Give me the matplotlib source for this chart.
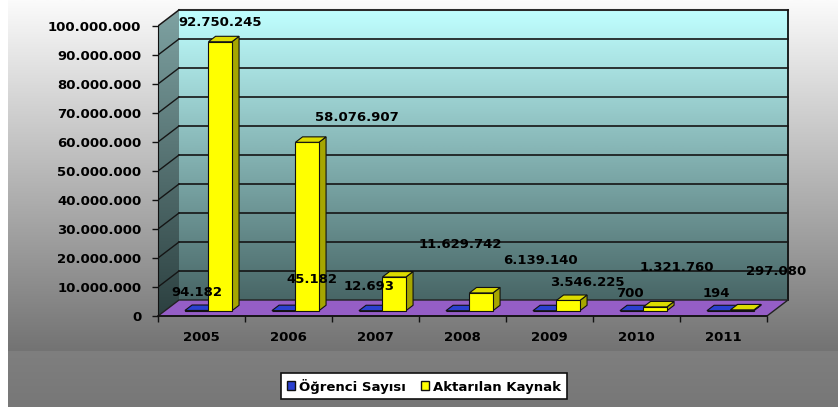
import numpy as np
import matplotlib
matplotlib.use("Agg")
import matplotlib.pyplot as plt
from matplotlib.patches import Polygon, Patch
from matplotlib.colors import to_rgb

years = ["2005", "2006", "2007", "2008", "2009", "2010", "2011"]
ogrenci = [94182, 45182, 12693, None, None, 700, 194]
aktarilan = [92750245, 58076907, 11629742, 6139140, 3546225, 1321760, 297080]
series_names = ["Öğrenci Sayısı", "Aktarılan Kaynak"]
yticks = list(range(0, 100_000_001, 10_000_000))

# label nudges (pixels) relative to the top of each bar, as Excel placed them
ogr_label_off = [(0, 18), (28, 31), (-2, 24), None, None, (-2, 17), (-2, 17)]
akt_label_off = [(0, 19), (50, 25), (66, 32), (59, 32), (19, 18), (22, 39), (34, 38)]

W, H = 838, 407
fig = plt.figure(figsize=(W / 100, H / 100), dpi=100)
plt.rcParams["font.family"] = ["DejaVu Sans"]


def gradient(c_top, c_bot, n=256):
    a, b = np.array(to_rgb(c_top)), np.array(to_rgb(c_bot))
    t = np.linspace(0, 1, n)[:, None]
    return (a + (b - a) * t)[:, None, :]


# figure background
bg = fig.add_axes([0, 0, 1, 1], zorder=-10)
bg.set_xlim(0, W)
bg.set_ylim(H, 0)
bg.axis("off")
bg.imshow(gradient("#fbfbfb", "#737373"), extent=(7, W, 351, 0), aspect="auto")
bg.imshow(gradient("#7f7f7f", "#777777"), extent=(7, W, H, 351), aspect="auto")
bg.imshow(gradient("#ffffff", "#ffffff", 2), extent=(0, 7, H, 0), aspect="auto")

# main axes: front plane mapping
left_px, right_px, top_px, bot_px = 158, 800, 3, 335
cat_px, m_px, zero_py = 87.0, 2.9, 316
ax = fig.add_axes([left_px / W, 1 - bot_px / H, (right_px - left_px) / W, (bot_px - top_px) / H])
ax.set_xlim(-0.5, -0.5 + (right_px - left_px) / cat_px)
ax.set_ylim((zero_py - bot_px) / m_px * 1e6, (zero_py - top_px) / m_px * 1e6)
ax.patch.set_visible(False)

DX = 21 / cat_px
DY = 16 / m_px * 1e6
n = len(years)
x0, x1 = -0.5, n - 0.5
ymax = yticks[-1]

# back wall
ax.imshow(gradient("#c0ffff", "#486666"), extent=(x0 + DX, x1 + DX, DY, ymax + DY),
          aspect="auto", zorder=0, interpolation="bicubic")
ax.plot([x0 + DX, x1 + DX], [ymax + DY, ymax + DY], color="#9a9a9a", lw=1.5, zorder=1)
ax.plot([x1 + DX, x1 + DX], [DY, ymax + DY], color="#111111", lw=1.3, zorder=1)

# left wall
lw_poly = Polygon([(x0, 0), (x0 + DX, DY), (x0 + DX, ymax + DY), (x0, ymax)],
                  closed=True, facecolor="none", edgecolor="none", zorder=1)
ax.add_patch(lw_poly)
im = ax.imshow(gradient("#7ea2a2", "#2c4040"), extent=(x0, x0 + DX, 0, ymax + DY),
               aspect="auto", zorder=0.5, interpolation="bicubic")
im.set_clip_path(lw_poly)
ax.plot([x0, x0 + DX], [ymax, ymax + DY], color="#9a9a9a", lw=1.2, zorder=1)

# gridlines
for v in yticks[1:]:
    ax.plot([x0 + DX, x1 + DX], [v + DY, v + DY], color="#151515", lw=1.2, zorder=1.5)
    ax.plot([x0, x0 + DX], [v, v + DY], color="#151515", lw=1.0, zorder=1.5)

# floor
ax.add_patch(Polygon([(x0, 0), (x1, 0), (x1 + DX, DY), (x0 + DX, DY)], closed=True,
                     facecolor="#955ec6", edgecolor="#222222", lw=1.0, zorder=2))

# bars
bw, f0, f1 = 0.27, 0.33, 0.67


def draw_box(xa, xb, v, front, side, top, z):
    v = v or 0
    fr = [(xa + f0 * DX, f0 * DY), (xb + f0 * DX, f0 * DY),
          (xb + f0 * DX, v + f0 * DY), (xa + f0 * DX, v + f0 * DY)]
    sd = [(xb + f0 * DX, f0 * DY), (xb + f1 * DX, f1 * DY),
          (xb + f1 * DX, v + f1 * DY), (xb + f0 * DX, v + f0 * DY)]
    tp = [(xa + f0 * DX, v + f0 * DY), (xb + f0 * DX, v + f0 * DY),
          (xb + f1 * DX, v + f1 * DY), (xa + f1 * DX, v + f1 * DY)]
    for pts, c in ((sd, side), (fr, front), (tp, top)):
        ax.add_patch(Polygon(pts, closed=True, facecolor=c, edgecolor="#111111",
                             lw=0.8, zorder=z))
    return (xa + xb) / 2 + f0 * DX, v + f0 * DY


fmt = lambda v: f"{v:,}".replace(",", ".")
for i in range(n):
    bx, by = draw_box(i - bw, i, ogrenci[i], "#2a40d0", "#1a2680", "#2a40d0", 3 + i)
    if ogrenci[i] is not None and ogr_label_off[i] is not None:
        ax.annotate(fmt(ogrenci[i]), (bx, by), xytext=ogr_label_off[i],
                    textcoords="offset pixels", ha="center", va="center",
                    fontsize=9.5, fontweight="bold", zorder=20, annotation_clip=False)
    bx, by = draw_box(i, i + bw, aktarilan[i], "#ffff00", "#a6a600", "#dcdc00", 3.5 + i)
    ax.annotate(fmt(aktarilan[i]), (bx, by), xytext=akt_label_off[i],
                textcoords="offset pixels", ha="center", va="center",
                fontsize=9.5, fontweight="bold", zorder=20, annotation_clip=False)

# axes
for s in ("top", "right"):
    ax.spines[s].set_visible(False)
ax.spines["left"].set_bounds(0, ymax)
ax.spines["left"].set_color("#111111")
ax.spines["bottom"].set_position(("data", 0))
ax.spines["bottom"].set_bounds(x0, x1)
ax.spines["bottom"].set_color("#111111")
ax.spines["bottom"].set_linewidth(1.2)
ax.set_yticks(yticks)
ax.set_yticklabels([fmt(v) for v in yticks], fontsize=9.5, fontweight="bold")
ax.tick_params(axis="y", length=4, width=1, pad=8, color="#111111")
ax.set_xticks(np.arange(x0, x1 + 0.01, 1.0))
ax.set_xticklabels([])
ax.tick_params(axis="x", which="major", length=4, width=1, direction="out", color="#111111")
ax.set_xticks(range(n), minor=True)
ax.set_xticklabels(years, minor=True, fontsize=9.5, fontweight="bold")
ax.tick_params(axis="x", which="minor", length=0, pad=11)

# legend
handles = [Patch(facecolor="#2a40d0", edgecolor="#111111"),
           Patch(facecolor="#ffff00", edgecolor="#111111")]
leg = fig.legend(handles, series_names, loc="center", bbox_to_anchor=(424 / W, 1 - 386 / H),
                 ncol=2, fancybox=False, edgecolor="#111111", framealpha=1,
                 handlelength=0.65, handleheight=0.65, handletextpad=0.3,
                 columnspacing=1.1, borderpad=0.45, borderaxespad=0,
                 prop={"size": 9.5, "weight": "bold"})
leg.get_frame().set_linewidth(1.2)

fig.savefig("out.png", dpi=100)
